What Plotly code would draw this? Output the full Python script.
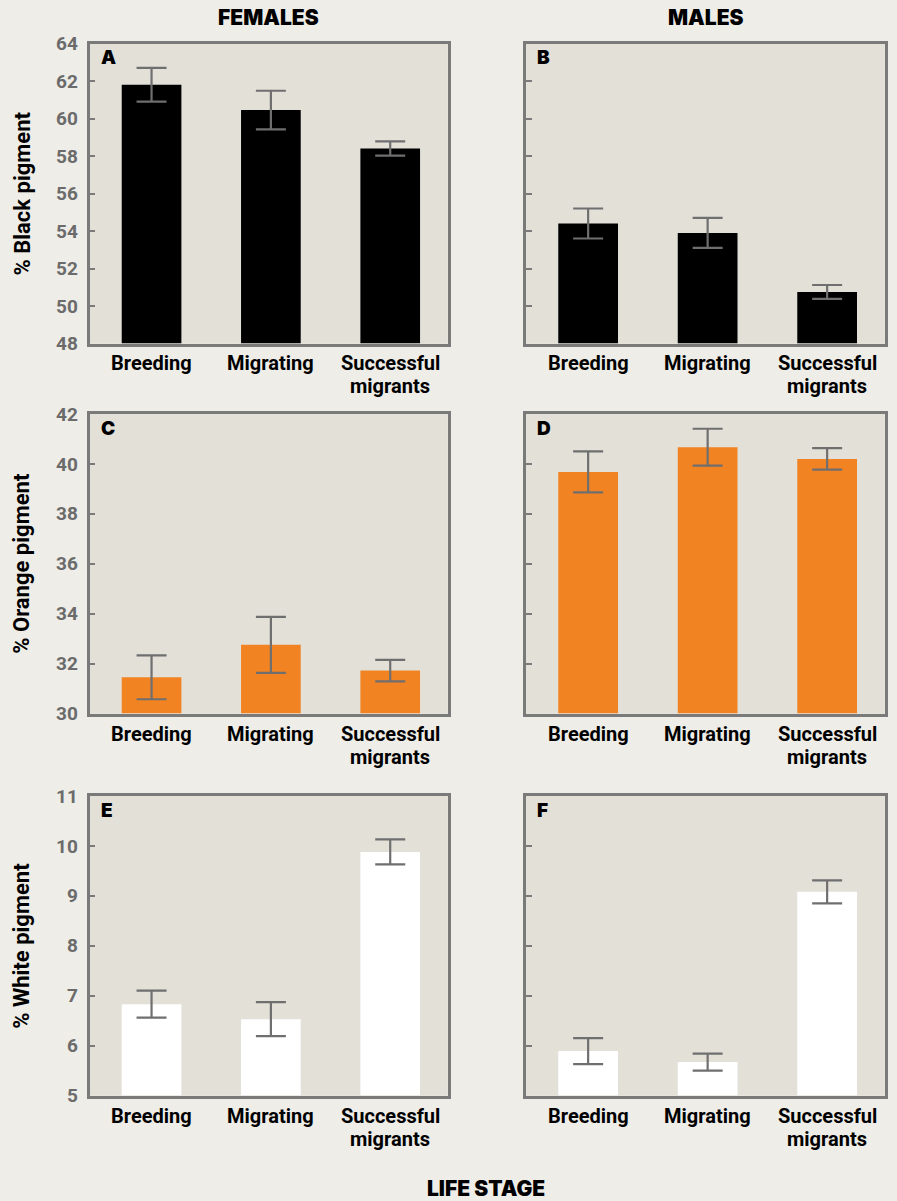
import plotly.graph_objects as go

# Life stages on the x axis
stages = ["Breeding", "Migrating", "Successful<br>migrants"]

# Female means and standard errors
female_black = [61.8, 60.45, 58.4]
female_black_err = [0.9, 1.03, 0.38]
female_orange = [31.45, 32.75, 31.72]
female_orange_err = [0.88, 1.12, 0.43]
female_white = [6.83, 6.53, 9.88]
female_white_err = [0.27, 0.34, 0.25]

# Male means and standard errors
male_black = [54.4, 53.9, 50.75]
male_black_err = [0.8, 0.8, 0.37]
male_orange = [39.68, 40.67, 40.2]
male_orange_err = [0.82, 0.74, 0.43]
male_white = [5.89, 5.67, 9.08]
male_white_err = [0.26, 0.17, 0.23]

# y-axis ranges and tick values per pigment row
black_range = [48, 64]
black_ticks = [48, 50, 52, 54, 56, 58, 60, 62, 64]
orange_range = [30, 42]
orange_ticks = [30, 32, 34, 36, 38, 40, 42]
white_range = [5, 11]
white_ticks = [5, 6, 7, 8, 9, 10, 11]

W, H = 897, 1201
PAGE_BG = "#eeede8"
PLOT_BG = "#e3e0d8"
FRAME = "#7a7a7a"
ERR = "#6f6f6f"
ORANGE = "#f28322"
LINE_GAP = 23  # px between the lines of a wrapped category label

col_x = [(89.5, 447.5), (526, 884.5)]
row_y = [(43.5, 343.5), (414, 713.5), (796, 1095.5)]

panels = [
    # (row, col, values, errors, colour, range, ticks, letter, ytitle)
    (0, 0, female_black, female_black_err, "#000000", black_range, black_ticks, "A", "% Black pigment"),
    (0, 1, male_black, male_black_err, "#000000", black_range, black_ticks, "B", None),
    (1, 0, female_orange, female_orange_err, ORANGE, orange_range, orange_ticks, "C", "% Orange pigment"),
    (1, 1, male_orange, male_orange_err, ORANGE, orange_range, orange_ticks, "D", None),
    (2, 0, female_white, female_white_err, "#ffffff", white_range, white_ticks, "E", "% White pigment"),
    (2, 1, male_white, male_white_err, "#ffffff", white_range, white_ticks, "F", None),
]

heavy_font = dict(family="Inter, Roboto, Arial Black, sans-serif", color="#000000", weight=900)
cat_font = dict(family="Roboto, Arial, sans-serif", size=20, color="#000000", weight="bold")

fig = go.Figure()
annotations = []
shapes = []

for i, (r, c, vals, errs, colour, yr, yt, letter, ytitle) in enumerate(panels):
    n = i + 1
    xa = "x" if n == 1 else f"x{n}"
    ya = "y" if n == 1 else f"y{n}"
    xkey = "xaxis" if n == 1 else f"xaxis{n}"
    ykey = "yaxis" if n == 1 else f"yaxis{n}"
    x0, x1 = col_x[c]
    y0, y1 = row_y[r]

    fig.add_trace(go.Bar(
        x=stages, y=[v - yr[0] for v in vals], base=yr[0],
        marker=dict(color=colour, line=dict(width=0)),
        width=0.5,
        error_y=dict(type="data", array=errs, visible=True,
                     color=ERR, thickness=2.2, width=15),
        xaxis=xa, yaxis=ya, showlegend=False,
        hoverinfo="skip",
    ))

    fig.layout[xkey] = dict(
        domain=[x0 / W, x1 / W], anchor=ya,
        range=[-0.52, 2.48], type="category",
        showline=True, linecolor=FRAME, linewidth=2.6, mirror=True,
        showgrid=False, zeroline=False, ticks="",
        showticklabels=False,
        fixedrange=True,
    )
    fig.layout[ykey] = dict(
        domain=[1 - y1 / H, 1 - y0 / H], anchor=xa,
        range=yr, tickvals=yt,
        showticklabels=(c == 0),
        ticks="inside", ticklen=6, tickwidth=2, tickcolor=FRAME,
        showline=True, linecolor=FRAME, linewidth=2.6, mirror=True,
        showgrid=False, zeroline=False,
        tickfont=dict(family="Roboto, Arial, sans-serif", size=19, color="#6b6b6b", weight="bold"),
        ticklabelstandoff=5,
        fixedrange=True,
    )

    # light panel background
    shapes.append(dict(type="rect", xref=f"{xa} domain", yref=f"{ya} domain",
                       x0=0, x1=1, y0=0, y1=1, fillcolor=PLOT_BG,
                       line=dict(width=0), layer="below"))

    # category labels below the panel, wrapped lines set close together
    for stage in stages:
        for k, line in enumerate(stage.split("<br>")):
            annotations.append(dict(
                text=line, xref=xa, yref=f"{ya} domain",
                x=stage, y=0, xanchor="center", yanchor="middle",
                yshift=-20 - k * LINE_GAP, showarrow=False, font=cat_font,
            ))

    # panel letter
    annotations.append(dict(
        text=letter, xref=f"{xa} domain", yref=f"{ya} domain",
        x=0.026, y=0.997, xanchor="left", yanchor="top", showarrow=False,
        font=dict(heavy_font, size=19),
    ))

    if ytitle:
        annotations.append(dict(
            text=ytitle, xref="paper", yref=f"{ya} domain",
            x=22 / W, y=0.5, xanchor="center", yanchor="middle", showarrow=False,
            textangle=-90,
            font=dict(family="Roboto, Arial, sans-serif", size=22, color="#000000", weight="bold"),
        ))

# column headers and shared x title
header_font = dict(heavy_font, size=21)
annotations.append(dict(text="FEMALES", xref="paper", yref="paper",
                        x=268 / W, y=1 - 18 / H, xanchor="center", yanchor="middle",
                        showarrow=False, font=header_font))
annotations.append(dict(text="MALES", xref="paper", yref="paper",
                        x=706 / W, y=1 - 18 / H, xanchor="center", yanchor="middle",
                        showarrow=False, font=header_font))
annotations.append(dict(text="LIFE STAGE", xref="paper", yref="paper",
                        x=486 / W, y=1 - 1188 / H, xanchor="center", yanchor="middle",
                        showarrow=False, font=header_font))

fig.update_layout(
    width=W, height=H,
    margin=dict(l=0, r=0, t=0, b=0, autoexpand=False),
    paper_bgcolor=PAGE_BG, plot_bgcolor=PLOT_BG,
    annotations=annotations, shapes=shapes,
    bargap=0.5, showlegend=False,
)

fig.write_html("out.html")
